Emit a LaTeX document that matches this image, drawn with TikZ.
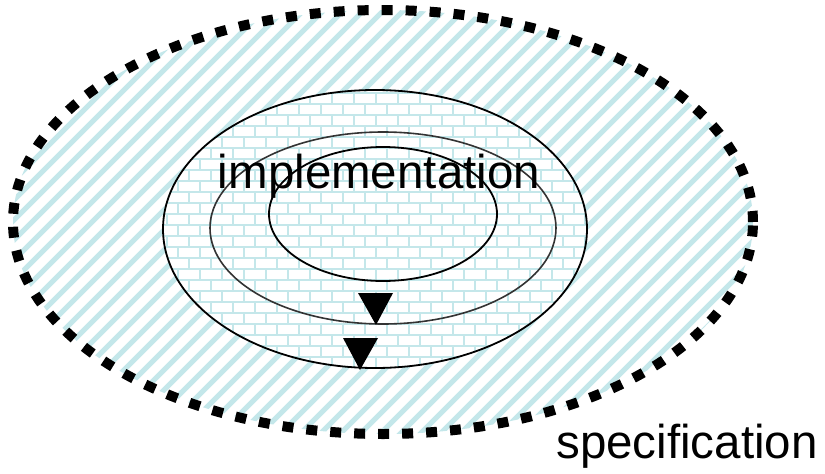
\documentclass[tikz,border=0pt]{standalone}
\usepackage{fontspec}
\setmainfont{Liberation Sans}
\begin{document}
\begin{tikzpicture}[x=1pt,y=-1pt,
  hatchline/.style={draw=tint,line width=5.2pt},
  mortar/.style={draw=tint,line width=2pt},
  ring/.style={draw=black,line width=1.8pt},
  specring/.style={draw=black,line width=10pt,dash pattern=on 11pt off 13pt},
  arrowtip/.style={fill=black},
  label/.style={font=\fontsize{47.5}{57}\selectfont,inner sep=0pt,anchor=base}]
\definecolor{tint}{HTML}{C4E7EA}
\useasboundingbox (0,0) rectangle (825,474);

% outer region: diagonal hatching
\begin{scope}
  \clip (383,222) ellipse [x radius=370pt, y radius=212pt];
  \foreach \c in {-480,-460,...,780}
    \draw[hatchline] (\c,474) -- (\c+474,0);
\end{scope}

% implementation region: brick pattern
\fill[white] (375,229) ellipse [x radius=212pt, y radius=139pt];
\begin{scope}
  \clip (375,229) ellipse [x radius=212pt, y radius=139pt];
  \foreach \r in {0,...,28} {
    \pgfmathsetmacro{\yy}{82+11*\r}
    \pgfmathsetmacro{\sh}{mod(\r,2)*11}
    \draw[mortar] (150,\yy) -- (600,\yy);
    \foreach \k in {0,...,21}
      \draw[mortar] (145+\sh+22*\k,\yy) -- (145+\sh+22*\k,\yy+11);
  }
\end{scope}

% nested rings
\draw[ring] (375,229) ellipse [x radius=212pt, y radius=139pt];
\draw[ring,draw=black!80,line width=1.6pt] (383,228) ellipse [x radius=173pt, y radius=96pt];
\draw[ring] (383,214) ellipse [x radius=114pt, y radius=67pt];

% specification boundary
\draw[specring] (383,222) ellipse [x radius=370pt, y radius=212pt];

% refinement arrowheads
\coordinate (tipA) at (376,325);
\coordinate (tipB) at (360,370);
\fill[arrowtip] (tipA) -- (358,293) -- (393,293) -- cycle;
\fill[arrowtip] (tipB) -- (343,338) -- (378,338) -- cycle;

% labels
\node[label] (impl) at (379,188) {implementation};
\node[label] (spec) at (687,458) {specification};
\end{tikzpicture}
\end{document}
